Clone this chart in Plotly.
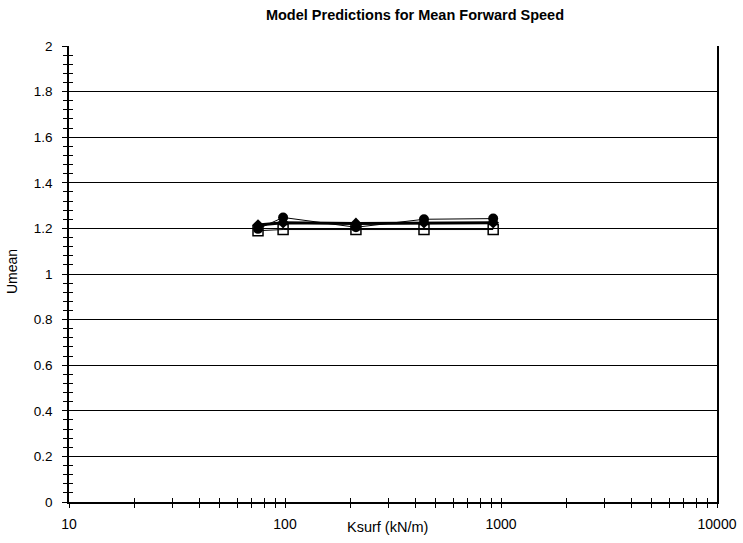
import plotly.graph_objects as go

# Surface stiffness values (kN/m) and predicted mean forward speed
ksurf = [75, 98, 213, 440, 920]
umean_squares = [1.19, 1.195, 1.195, 1.195, 1.195]
umean_diamonds = [1.215, 1.225, 1.222, 1.225, 1.225]
umean_circles = [1.198, 1.248, 1.205, 1.24, 1.243]

x_tickvals = [10, 100, 1000, 10000]
x_ticktext = ["10", "100", "1000", "10000"]
y_tickvals = [0, 0.2, 0.4, 0.6, 0.8, 1, 1.2, 1.4, 1.6, 1.8, 2]
y_ticktext = ["0", "0.2", "0.4", "0.6", "0.8", "1", "1.2", "1.4", "1.6", "1.8", "2"]

# minor ticks at 2..9 within each decade
x_minor = [m * 10 ** d for d in range(1, 4) for m in range(2, 10)]

family = "Liberation Sans, Arial, sans-serif"
font = dict(family=family, size=13.5, color="black")
xfont = dict(family=family, size=14, color="black")
title_font = dict(family=family, size=14.5, color="black")

fig = go.Figure()
fig.add_trace(go.Scatter(
    x=ksurf, y=umean_squares, mode="lines+markers",
    line=dict(color="black", width=1),
    marker=dict(symbol="square-open", size=10, color="black", line=dict(width=1.5)),
    showlegend=False))
fig.add_trace(go.Scatter(
    x=ksurf, y=umean_diamonds, mode="lines+markers",
    line=dict(color="black", width=3),
    marker=dict(symbol="diamond", size=9, color="black"),
    showlegend=False))
fig.add_trace(go.Scatter(
    x=ksurf, y=umean_circles, mode="lines+markers",
    line=dict(color="black", width=1),
    marker=dict(symbol="circle", size=10, color="black"),
    showlegend=False))
# empty trace so the inner tick axes are rendered
fig.add_trace(go.Scatter(x=[], y=[], xaxis="x2", yaxis="y2", showlegend=False,
                         hoverinfo="skip"))

axis_common = dict(showline=True, linecolor="black", linewidth=1.5, zeroline=False,
                   automargin=False)

fig.update_layout(
    width=743, height=543,
    margin=dict(l=69, r=26, t=46, b=41),
    paper_bgcolor="white", plot_bgcolor="white",
    font=font,
    title=dict(text="<b>Model Predictions for Mean Forward Speed</b>",
               x=415 / 743, xanchor="center", y=1 - 15 / 543, yanchor="middle",
               font=dict(family=family, size=14.5, color="black")),
    xaxis=dict(type="log", range=[1, 4], tickvals=x_tickvals, ticktext=x_ticktext,
               tickfont=xfont,
               ticks="outside", ticklen=4, tickwidth=1, tickcolor="black",
               minor=dict(tickmode="array", tickvals=x_minor, ticks="outside",
                          ticklen=4, tickwidth=1, tickcolor="black", showgrid=False),
               showgrid=False, **axis_common, ticklabelstandoff=4),
    xaxis2=dict(type="log", range=[1, 4], overlaying="x", side="bottom", anchor="y",
                tickvals=x_tickvals, showticklabels=False,
                ticks="inside", ticklen=4, tickwidth=1, tickcolor="black",
                minor=dict(tickmode="array", tickvals=x_minor, ticks="inside",
                           ticklen=4, tickwidth=1, tickcolor="black"),
                showgrid=False, showline=False, zeroline=False, automargin=False),
    yaxis=dict(range=[0, 2], tickvals=y_tickvals, ticktext=y_ticktext,
               ticks="outside", ticklen=5, tickwidth=1, tickcolor="black",
               minor=dict(dtick=0.04, ticks="outside", ticklen=4, tickwidth=1,
                          tickcolor="black", showgrid=False),
               showgrid=True, gridcolor="black", gridwidth=1,
               mirror=True, **axis_common, ticklabelstandoff=7),
    yaxis2=dict(range=[0, 2], overlaying="y", side="left", anchor="x",
                tickvals=y_tickvals, showticklabels=False,
                ticks="inside", ticklen=5, tickwidth=1, tickcolor="black",
                minor=dict(dtick=0.04, ticks="inside", ticklen=4, tickwidth=1,
                           tickcolor="black"),
                showgrid=False, showline=False, zeroline=False, automargin=False),
    annotations=[
        dict(text="Ksurf (kN/m)", x=(387 - 69) / 648, y=(502 - 527) / 456, xref="paper",
             yref="paper", xanchor="center", yanchor="middle", showarrow=False,
             font=title_font),
        dict(text="Umean", x=(12 - 69) / 648, y=(502 - 272) / 456, xref="paper",
             yref="paper", xanchor="center", yanchor="middle", showarrow=False,
             textangle=-90, font=dict(family=family, size=14, color="black")),
    ],
)

fig.write_html("out.html")
